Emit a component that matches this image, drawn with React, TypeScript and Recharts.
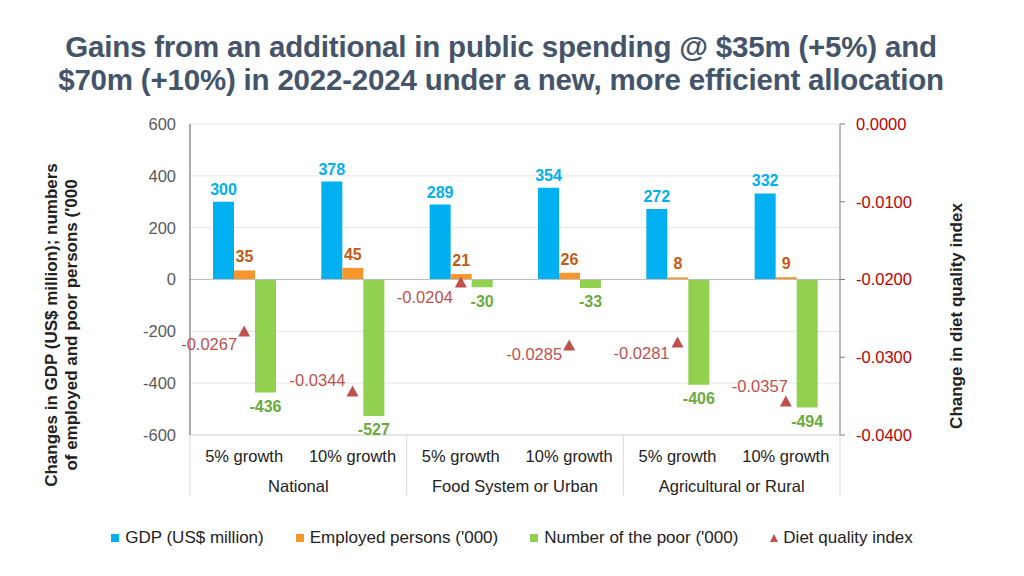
import { ComposedChart, Bar, Line, XAxis, YAxis, CartesianGrid, Legend, LabelList, ReferenceLine } from "recharts";

const categories = ["5% growth", "10% growth", "5% growth", "10% growth", "5% growth", "10% growth"];
const groups = ["National", "Food System or Urban", "Agricultural or Rural"];
const gdp = [300, 378, 289, 354, 272, 332];
const employed = [35, 45, 21, 26, 8, 9];
const poor = [-436, -527, -30, -33, -406, -494];
const diet = [-0.0267, -0.0344, -0.0204, -0.0285, -0.0281, -0.0357];

const leftTicks = [-600, -400, -200, 0, 200, 400, 600];
const rightTicks = [-0.04, -0.03, -0.02, -0.01, 0];

const seriesNames = ["GDP (US$ million)", "Employed persons ('000)", "Number of the poor ('000)", "Diet quality index"];

// label nudges for the diet index labels (left of the triangle, above or below)
const dietLabelDx = [-7, -7, -8, -7, -8, 2];
const dietLabelDy = [12, -11, 14, 8, 11, -16];

const FONT = "'Liberation Sans', Arial, sans-serif";
const BLUE = "#00B0F0";
const ORANGE = "#F7962B";
const GREEN = "#92D050";
const DIET = "#C0504D";

const data = categories.map((cat, i) => ({
    cat,
    group: groups[Math.floor(i / 2)],
    gdp: gdp[i],
    employed: employed[i],
    poor: poor[i],
    diet: diet[i],
}));

const CategoryTick = (props: any) => {
    const { x, y, payload, index } = props;
    const half = payload?.offset ?? 54;
    const i = index ?? payload.index;
    return (
        <g>
            <text x={x} y={y + 21} textAnchor="middle" dominantBaseline="central" fontSize={16.5} fill="#222" fontFamily={FONT}>
                {payload.value}
            </text>
            {i % 2 === 1 && (
                <text x={x - half} y={y + 51} textAnchor="middle" dominantBaseline="central" fontSize={16.5} fill="#222" fontFamily={FONT}>
                    {groups[(i - 1) / 2]}
                </text>
            )}
            {i % 2 === 0 && <line x1={x - half} x2={x - half} y1={y} y2={y + 60} stroke="#D9D9D9" />}
            {i === categories.length - 1 && <line x1={x + half} x2={x + half} y1={y} y2={y + 60} stroke="#D9D9D9" />}
        </g>
    );
};

const Triangle = (props: any) => {
    const { cx, cy, index } = props;
    if (cx == null || cy == null) return null;
    return <path key={`tri-${index}`} d={`M${cx},${cy - 6} L${cx + 6},${cy + 5} L${cx - 6},${cy + 5} Z`} fill={DIET} />;
};

const DietLabel = (props: any) => {
    const { x, y, value, index } = props;
    return (
        <text
            x={x + dietLabelDx[index]}
            y={y + dietLabelDy[index]}
            textAnchor="end"
            dominantBaseline="central"
            fontSize={16.5}
            fill={DIET}
            fontFamily={FONT}
        >
            {Number(value).toFixed(4)}
        </text>
    );
};

const LegendContent = (props: any) => {
    const items = [...(props.payload || [])].sort((a: any, b: any) => seriesNames.indexOf(a.value) - seriesNames.indexOf(b.value));
    return (
        <div style={{ height: 61, display: "flex", justifyContent: "center", alignItems: "flex-end", paddingBottom: 8, boxSizing: "border-box", fontFamily: FONT, fontSize: 17, color: "#222" }}>
            {items.map((entry: any, i: number) => (
                <div key={i} style={{ display: "flex", alignItems: "center", marginRight: i < items.length - 1 ? 32 : 0, height: 20 }}>
                    {entry.type === "triangle" ? (
                        <svg width={8} height={8} style={{ marginRight: 5 }}>
                            <path d="M4,0 L8,8 L0,8 Z" fill={DIET} />
                        </svg>
                    ) : (
                        <span style={{ width: 8, height: 8, background: entry.color, marginRight: 6, display: "inline-block" }} />
                    )}
                    <span>{entry.value}</span>
                </div>
            ))}
        </div>
    );
};

const App = () => {
    return (
        <div style={{ position: "absolute", left: 0, top: 0, width: 1024, height: 576, background: "#fff", fontFamily: FONT }}>
            <div style={{ position: "absolute", left: 0, top: 30, width: 1002, textAlign: "center", fontSize: 29.5, lineHeight: "33px", fontWeight: 700, color: "#44546A", letterSpacing: -0.2 }}>
                Gains from an additional in public spending @ $35m (+5%) and
                <br />
                $70m (+10%) in 2022-2024 under a new, more efficient allocation
            </div>

            <ComposedChart width={1024} height={576} data={data} margin={{ top: 124, right: 0, left: 0, bottom: 20 }} barGap={0}>
                <CartesianGrid vertical={false} stroke="#E6E6E6" yAxisId="left" />
                <XAxis dataKey="cat" height={60} tick={<CategoryTick />} tickLine={false} tickSize={0} tickMargin={0} axisLine={{ stroke: "#D9D9D9" }} interval={0} />
                <YAxis
                    yAxisId="left"
                    width={190}
                    domain={[-600, 600]}
                    ticks={leftTicks}
                    tickLine={false}
                    tickMargin={8}
                    axisLine={{ stroke: "#595959" }}
                    tick={{ fontSize: 16.5, fill: "#595959", fontFamily: FONT }}
                />
                <YAxis
                    yAxisId="right"
                    orientation="right"
                    width={184}
                    domain={[-0.04, 0]}
                    ticks={rightTicks}
                    tickSize={5}
                    tickMargin={11}
                    tickLine={{ stroke: "#7F7F7F" }}
                    axisLine={{ stroke: "#7F7F7F" }}
                    tickFormatter={(v: number) => (Math.abs(v) < 1e-9 ? "0.0000" : v.toFixed(4))}
                    tick={{ fontSize: 16.5, fill: "#C00000", fontFamily: FONT, textAnchor: "start" }}
                />
                <ReferenceLine y={0} yAxisId="left" stroke="#BFBFBF" />
                <Legend verticalAlign="bottom" content={<LegendContent />} />
                <Bar dataKey="gdp" name={seriesNames[0]} yAxisId="left" fill={BLUE} barSize={21} isAnimationActive={false}>
                    <LabelList dataKey="gdp" position="top" offset={7} fill={BLUE} fontSize={16} fontWeight={700} fontFamily={FONT} />
                </Bar>
                <Bar dataKey="employed" name={seriesNames[1]} yAxisId="left" fill={ORANGE} barSize={21} isAnimationActive={false}>
                    <LabelList dataKey="employed" position="top" offset={8} fill="#C55A11" fontSize={16} fontWeight={700} fontFamily={FONT} />
                </Bar>
                <Bar dataKey="poor" name={seriesNames[2]} yAxisId="left" fill={GREEN} barSize={21} isAnimationActive={false}>
                    <LabelList dataKey="poor" position="top" offset={8} fill="#6AAB3E" fontSize={16} fontWeight={700} fontFamily={FONT} />
                </Bar>
                <Line
                    dataKey="diet"
                    name={seriesNames[3]}
                    yAxisId="right"
                    stroke="none"
                    legendType="triangle"
                    dot={<Triangle />}
                    activeDot={false}
                    isAnimationActive={false}
                >
                    <LabelList dataKey="diet" content={<DietLabel />} />
                </Line>
            </ComposedChart>

            <div style={{ position: "absolute", left: -138, top: 305, width: 400, height: 40, transform: "rotate(-90deg)", textAlign: "center", fontSize: 17, lineHeight: "20px", fontWeight: 700, color: "#222" }}>
                Changes in GDP (US$ million); numbers
                <br />
                of employed and poor persons ('000
            </div>
            <div style={{ position: "absolute", left: 807, top: 306, width: 300, height: 20, transform: "rotate(-90deg)", textAlign: "center", fontSize: 17, lineHeight: "20px", fontWeight: 700, color: "#222" }}>
                Change in diet quality index
            </div>
        </div>
    );
};

export default App;
